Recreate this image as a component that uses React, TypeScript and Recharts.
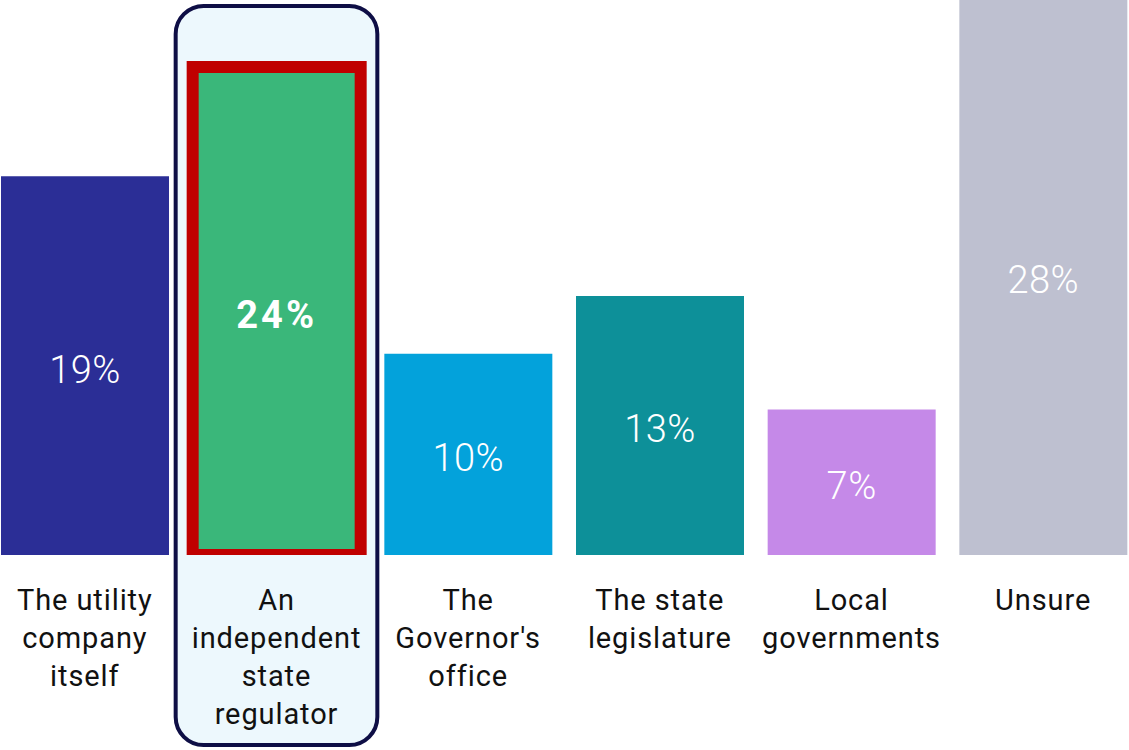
import React from "react";
import { BarChart, Bar, XAxis, YAxis, Cell, LabelList, ReferenceArea } from "recharts";

const categories = [
  "The utility\ncompany\nitself",
  "An\nindependent\nstate\nregulator",
  "The\nGovernor's\noffice",
  "The state\nlegislature",
  "Local\ngovernments",
  "Unsure",
];
const values = [19.0, 24.49, 10.1, 13.0, 7.3, 28.0];
const colors = ["#2B2E96", "#3AB77A", "#03A2DB", "#0D9099", "#C589E8", "#BEC0D0"];
const highlightIndex = 1;

const data = categories.map((c, i) => ({ name: c, value: values[i] }));

const FONT = "Roboto, 'Noto Sans', sans-serif";

const Tick = (props: any) => {
  const { x, y, payload } = props;
  const lines = String(payload.value).split("\n");
  return (
    <text
      x={x}
      y={y}
      textAnchor="middle"
      fontFamily={FONT}
      fontSize={29}
      fontWeight={400}
      letterSpacing={0.9}
      fill="#111"
    >
      {lines.map((l, i) => (
        <tspan key={i} x={x} dy={i === 0 ? 47 : 38}>
          {l}
        </tspan>
      ))}
    </text>
  );
};

const ValueLabel = (props: any) => {
  const { x, y, width, height, value, index } = props;
  const bold = index === highlightIndex;
  return (
    <text
      x={x + width / 2}
      y={y + height / 2 + 4}
      textAnchor="middle"
      dominantBaseline="central"
      fontFamily={FONT}
      fontSize={38}
      fontWeight={bold ? 700 : 300}
      letterSpacing={bold ? 3 : 0.5}
      fill="#FFFFFF"
    >
      {`${Math.round(value)}%`}
    </text>
  );
};

const HighlightBox = (props: any) => {
  const { x, width } = props;
  return (
    <rect
      x={x - 5}
      y={6}
      width={width + 10}
      height={739}
      rx={28}
      ry={28}
      fill="#EDF8FD"
      stroke="#0E0E45"
      strokeWidth={4}
    />
  );
};

export default function App() {
  return (
    <div style={{ position: "absolute", left: -11, top: 0, width: 1150, height: 750 }}>
      <BarChart
        width={1150}
        height={750}
        data={data}
        margin={{ top: 0, right: 0, bottom: 0, left: 0 }}
        barCategoryGap={12}
      >
        <XAxis
          dataKey="name"
          axisLine={false}
          tickLine={false}
          height={195}
          interval={0}
          tick={<Tick />}
        />
        <YAxis hide domain={[0, 27.85]} allowDataOverflow />
        <ReferenceArea
          x1={categories[highlightIndex]}
          x2={categories[highlightIndex]}
          y1={0}
          y2={27.85}
          ifOverflow="visible"
          shape={<HighlightBox />}
        />
        <Bar dataKey="value" isAnimationActive={false}>
          {data.map((d, i) => (
            <Cell
              key={i}
              fill={colors[i]}
              stroke={i === highlightIndex ? "#C00000" : "none"}
              strokeWidth={i === highlightIndex ? 12 : 0}
            />
          ))}
          <LabelList dataKey="value" content={<ValueLabel />} />
        </Bar>
      </BarChart>
    </div>
  );
}
